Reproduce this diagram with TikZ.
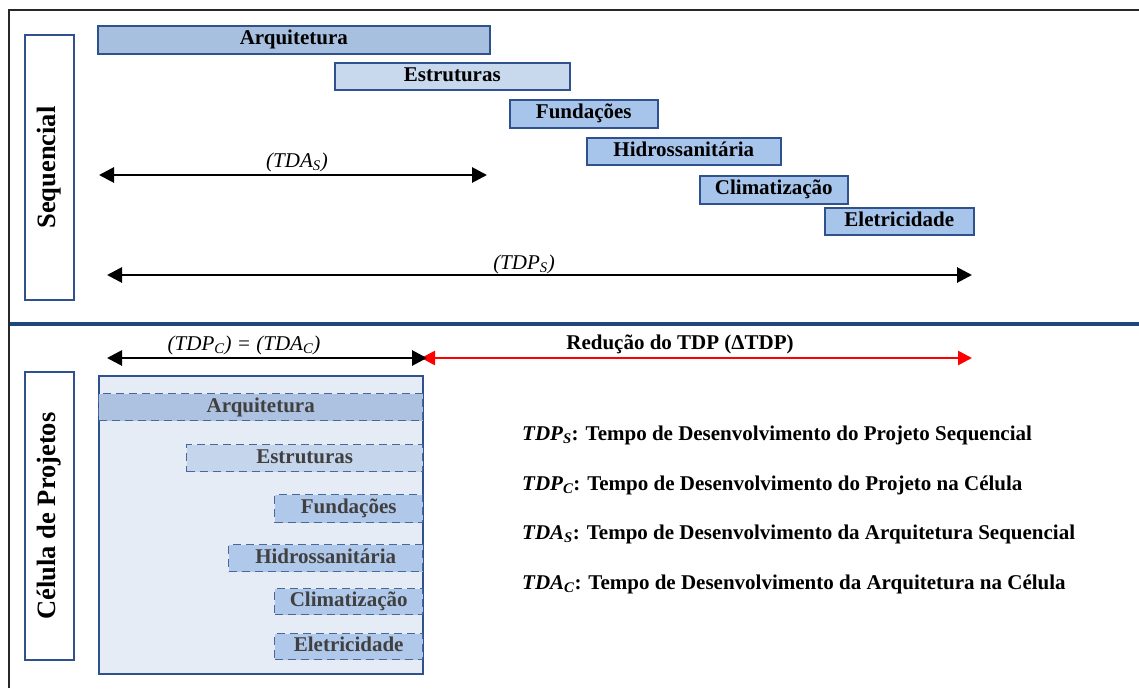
\documentclass[tikz,border=0pt]{standalone}
\usepackage{fontspec}
\setmainfont{Liberation Serif}
\usetikzlibrary{arrows.meta}

\definecolor{edgeblue}{RGB}{47,82,143}
\definecolor{divblue}{RGB}{31,73,125}
\definecolor{barA}{RGB}{168,192,224}
\definecolor{barB}{RGB}{200,216,237}
\definecolor{barC}{RGB}{167,196,234}
\definecolor{cellfill}{RGB}{230,236,245}
\definecolor{dashA}{RGB}{173,194,224}
\definecolor{dashB}{RGB}{196,213,236}
\definecolor{dashC}{RGB}{176,200,233}
\definecolor{dashedge}{RGB}{72,104,156}
\definecolor{greytext}{RGB}{64,64,64}
\definecolor{framegrey}{RGB}{40,40,40}

\newcommand\mainfs{\fontsize{21}{25}\selectfont}
\newcommand\sidefs{\fontsize{26.5}{30}\selectfont}

\tikzset{
  seqbar/.style={draw=edgeblue, line width=1.6pt, inner sep=0pt, anchor=north west,
    font=\mainfs\bfseries, text height=14pt, text depth=4pt},
  cellbar/.style={draw=dashedge, dash pattern=on 8pt off 5pt, line width=1.4pt,
    inner sep=0pt, anchor=north west, text=greytext,
    font=\mainfs\bfseries, text height=14pt, text depth=4pt},
  sidebox/.style={draw=edgeblue, line width=2pt, fill=white, rotate=90, inner sep=0pt,
    font=\sidefs\bfseries},
  dimarrow/.style={line width=2.8pt, {Triangle[length=15pt,width=15pt]}-{Triangle[length=15pt,width=15pt]}},
  redarrow/.style={red, line width=2.5pt, {Triangle[length=14pt,width=14pt]}-{Triangle[length=14pt,width=14pt]}},
  dimlabel/.style={font=\mainfs\itshape, inner sep=0pt},
  legend/.style={font=\mainfs\bfseries, inner sep=0pt, anchor=base west},
}

\begin{document}
\begin{tikzpicture}[x=1pt, y=-1pt]
\useasboundingbox (0,0) rectangle (1139,688);

% outer frame and section divider
\draw[framegrey, line width=2pt] (9,688) -- (9,10) -- (1139,10);
\draw[divblue, line width=4pt] (10,324) -- (1139,324);

% ---------------- sequential process ----------------
\node[sidebox, minimum width=265pt, minimum height=49pt] (seq) at (49.5,167.5) {Sequencial};

\node[seqbar, fill=barA, minimum width=392pt, minimum height=28pt] (sarq) at (97,25) {Arquitetura};
\node[seqbar, fill=barB, minimum width=235pt, minimum height=27pt] (sest) at (334,62) {Estruturas};
\node[seqbar, fill=barC, minimum width=148pt, minimum height=28pt] (sfun) at (509,99) {Fundações};
\node[seqbar, fill=barC, minimum width=194pt, minimum height=27pt] (shid) at (586,137) {Hidrossanitária};
\node[seqbar, fill=barC, minimum width=148pt, minimum height=28pt] (scli) at (699,175) {Climatização};
\node[seqbar, fill=barC, minimum width=149pt, minimum height=27pt] (sele) at (824,207) {Eletricidade};

\coordinate (tdaL) at (99,175);
\coordinate (tdaR) at (487,175);
\draw[dimarrow] (tdaL) -- (tdaR);
\node[dimlabel] (tdalbl) at (297,162) {(TDA\textsubscript{S})};

\coordinate (tdpL) at (107,275);
\coordinate (tdpR) at (972,275);
\draw[dimarrow] (tdpL) -- (tdpR);
\node[dimlabel] (tdplbl) at (524,264) {(TDP\textsubscript{S})};

% ---------------- project cell ----------------
\node[sidebox, minimum width=288pt, minimum height=49pt] (cel) at (49.5,516) {Célula de Projetos};

\node[draw=edgeblue, line width=1.8pt, fill=cellfill, inner sep=0pt, anchor=north west,
  minimum width=324pt, minimum height=298pt] (cell) at (98,375) {};

\node[cellbar, fill=dashA, minimum width=324pt, minimum height=27pt] (carq) at (98,393) {Arquitetura};
\node[cellbar, fill=dashB, minimum width=236pt, minimum height=27pt] (cest) at (186,444) {Estruturas};
\node[cellbar, fill=dashC, minimum width=148pt, minimum height=28pt] (cfun) at (274,494) {Fundações};
\node[cellbar, fill=dashC, minimum width=194pt, minimum height=27pt] (chid) at (228,544) {Hidrossanitária};
\node[cellbar, fill=dashC, minimum width=148pt, minimum height=26pt] (ccli) at (274,588) {Climatização};
\node[cellbar, fill=dashC, minimum width=148pt, minimum height=26pt] (cele) at (274,633) {Eletricidade};

\coordinate (tdcL) at (107,358);
\coordinate (tdcR) at (427,358);
\coordinate (redL) at (421,358);
\coordinate (redR) at (972,358);
\draw[redarrow] (redL) -- (redR);
\draw[dimarrow] (tdcL) -- (tdcR);
\node[dimlabel] (tdclbl) at (244,345) {(TDP\textsubscript{C}) = (TDA\textsubscript{C})};
\node[font=\mainfs\bfseries, inner sep=0pt] (redlbl) at (680,344) {Redução do TDP (ΔTDP)};

% ---------------- legend ----------------
\node[legend] (leg1) at (522,440) {{\itshape TDP\textsubscript{S}}: Tempo de Desenvolvimento do Projeto Sequencial};
\node[legend] (leg2) at (522,490) {{\itshape TDP\textsubscript{C}}: Tempo de Desenvolvimento do Projeto na Célula};
\node[legend] (leg3) at (522,539) {{\itshape TDA\textsubscript{S}}: Tempo de Desenvolvimento da Arquitetura Sequencial};
\node[legend] (leg4) at (522,589) {{\itshape TDA\textsubscript{C}}: Tempo de Desenvolvimento da Arquitetura na Célula};
\end{tikzpicture}
\end{document}
